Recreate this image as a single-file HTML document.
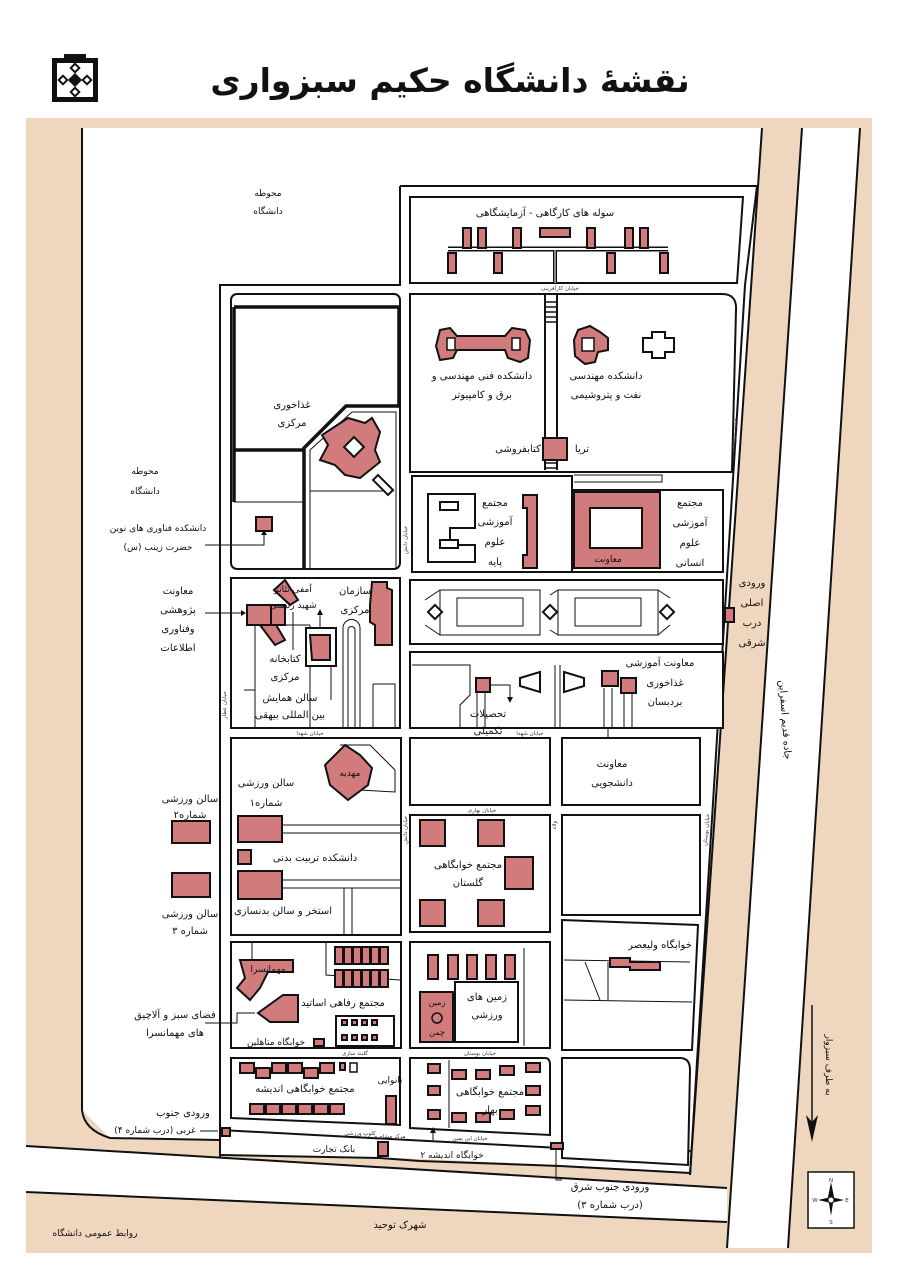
<!DOCTYPE html>
<html><head><meta charset="utf-8">
<style>
html,body{margin:0;padding:0;background:#fff;}
svg{display:block;}
text{font-family:"DejaVu Sans","Liberation Sans",sans-serif;fill:#111;}
.s{font-size:10px;text-anchor:middle;}
.t{font-size:5.5px;text-anchor:middle;fill:#333;}
.p{fill:#d17b7c;stroke:#111;stroke-width:2;}
.w{fill:#fff;stroke:#111;stroke-width:2;}
.l{fill:none;stroke:#111;stroke-width:2;}
.a{fill:none;stroke:#111;stroke-width:1;}
</style></head><body>
<svg width="904" height="1280" viewBox="0 0 904 1280" xmlns="http://www.w3.org/2000/svg">
<rect width="904" height="1280" fill="#fff"/>
<!-- logo -->
<g>
<path d="M52 58 L64 58 L64 54 L86 54 L86 58 L98 58 L98 102 L52 102 Z" fill="#111"/>
<path d="M57 63 L93 63 L93 97 L57 97 Z" fill="#fff"/>
<g fill="#111">
<rect x="71" y="64" width="8" height="8" transform="rotate(45 75 68)"/>
<rect x="71" y="88" width="8" height="8" transform="rotate(45 75 92)"/>
<rect x="59" y="76" width="8" height="8" transform="rotate(45 63 80)"/>
<rect x="83" y="76" width="8" height="8" transform="rotate(45 87 80)"/>
<rect x="70" y="75" width="10" height="10" transform="rotate(45 75 80)"/>
</g>
<g fill="#fff">
<rect x="73" y="66" width="4" height="4" transform="rotate(45 75 68)"/>
<rect x="73" y="90" width="4" height="4" transform="rotate(45 75 92)"/>
<rect x="61" y="78" width="4" height="4" transform="rotate(45 63 80)"/>
<rect x="85" y="78" width="4" height="4" transform="rotate(45 87 80)"/>
</g>
</g>
<text x="450" y="92" style="font-size:33px;font-weight:bold;text-anchor:middle;" direction="rtl">نقشهٔ دانشگاه حکیم سبزواری</text>

<!-- beige background -->
<rect x="26" y="118" width="846" height="1135" fill="#efd6bf"/>
<!-- main white area -->
<path d="M82 128 L762 128 L690 1172 L560 1165 L400 1158 L220 1155 L220 1140 L110 1138 L82 1110 Z" fill="#fff"/>
<path d="M82 128 L82 1110 Q84 1130 110 1138 L220 1140" class="l"/>
<path d="M762 128 L690 1175" class="l"/>
<!-- right road -->
<path d="M802 128 L860 128 L788 1248 L727 1248 Z" fill="#fff"/>
<path d="M802 128 L727 1248 M860 128 L788 1248" class="l"/>
<!-- bottom road -->
<path d="M26 1146 L727 1188 L727 1222 L26 1192 Z" fill="#fff"/>
<path d="M26 1146 L727 1188 M26 1192 L727 1222" class="l"/>
<!-- campus lower perimeter road -->
<path d="M220 1130 L560 1148 Q690 1160 690 1150" class="l"/>
<path d="M220 1155 L380 1158 L420 1161 L560 1166 L690 1173" class="l"/>

<!-- campus outer -->
<path d="M400 186 L757 186 L745 285" class="l"/>
<path d="M220 1158 L220 285 L400 285 L400 186" class="l"/>
<path d="M745 285 L690 1175" class="l"/>
<!-- workshop block -->
<path d="M410 197 L743 197 L737 283 L410 283 Z" class="w"/>
<text x="545" y="216" class="s" direction="rtl">سوله های کارگاهی - آزمایشگاهی</text>
<path d="M448 249 L668 249" stroke="#111" stroke-width="5"/>
<path d="M448 249 L668 249" stroke="#fff" stroke-width="2"/>
<line x1="555" y1="250" x2="555" y2="283" stroke="#111" stroke-width="4"/>
<line x1="555" y1="250" x2="555" y2="283" stroke="#fff" stroke-width="1"/>
<g class="p">
<rect x="463" y="228" width="8" height="20"/><rect x="478" y="228" width="8" height="20"/><rect x="513" y="228" width="8" height="20"/>
<rect x="540" y="228" width="30" height="9"/>
<rect x="587" y="228" width="8" height="20"/><rect x="625" y="228" width="8" height="20"/><rect x="640" y="228" width="8" height="20"/>
<rect x="448" y="253" width="8" height="20"/><rect x="494" y="253" width="8" height="20"/><rect x="607" y="253" width="8" height="20"/><rect x="660" y="253" width="8" height="20"/>
</g>
<text x="560" y="290" class="t" direction="rtl">خیابان کارآفرینی</text>

<!-- left block row1 -->
<rect x="231" y="294" width="169" height="275" rx="6" class="w"/>
<path d="M234 307 L399 307 L399 406 L346 406 L304 448 L304 569" fill="none" stroke="#111" stroke-width="3.5"/>
<path d="M234 307 L234 502" fill="none" stroke="#111" stroke-width="3.5"/>
<path d="M234 450 L303 450" fill="none" stroke="#111" stroke-width="3.5"/>
<path d="M234 502 L303 502" class="a" stroke-width="1.5"/>
<path d="M310 450 L352 412 L396 412 L396 569 M310 450 L310 569 M310 491 L394 491" class="a" stroke-width="1.5"/>
<path d="M378 475 L393 490 L388 495 L373 480 Z" class="w" stroke-width="1.5"/>
<path d="M348 418 L365 423 L372 418 L380 432 L375 450 L380 462 L360 478 L345 475 L335 465 L320 460 L328 445 L322 435 Z" class="p"/>
<rect x="347" y="440" width="14" height="14" transform="rotate(45 354 447)" fill="#fff" stroke="#111" stroke-width="2"/>
<text x="292" y="408" class="s" direction="rtl">غذاخوری</text>
<text x="292" y="426" class="s" direction="rtl">مرکزی</text>
<rect x="256" y="517" width="16" height="14" class="p"/>
<path d="M205 545 L264 545 L264 533" class="a"/><path d="M261 535 L264 530 L267 535 Z" fill="#111"/>
<text x="407" y="540" class="t" transform="rotate(-90 407 540)">خیابان دانش</text>

<!-- engineering block -->
<path d="M410 294 L722 294 Q737 294 736 310 L732 472 L410 472 Z" class="w"/>
<path d="M545 294 L545 470 M557 294 L557 470" class="l"/>
<g stroke="#111" stroke-width="1.5"><line x1="545" y1="302" x2="557" y2="302"/><line x1="545" y1="307" x2="557" y2="307"/><line x1="545" y1="312" x2="557" y2="312"/><line x1="545" y1="317" x2="557" y2="317"/><line x1="545" y1="322" x2="557" y2="322"/><line x1="545" y1="463" x2="557" y2="463"/><line x1="545" y1="468" x2="557" y2="468"/></g>
<rect x="543" y="438" width="24" height="22" class="p"/>
<path d="M440 330 L450 328 L457 336 L505 336 L512 328 L525 330 L530 340 L528 358 L520 362 L508 358 L505 350 L457 350 L453 358 L440 360 L436 346 Z" class="p"/>
<rect x="447" y="338" width="8" height="12" fill="#fff" stroke="#111" stroke-width="1.5"/>
<rect x="512" y="338" width="8" height="12" fill="#fff" stroke="#111" stroke-width="1.5"/>
<path d="M578 330 L590 326 L600 332 L608 338 L608 350 L598 352 L595 362 L585 364 L575 356 L574 340 Z" class="p"/>
<rect x="582" y="338" width="12" height="13" fill="#fff" stroke="#111" stroke-width="1.5"/>
<path d="M652 332 L665 332 L665 338 L674 338 L674 352 L665 352 L665 358 L652 358 L652 352 L643 352 L643 338 L652 338 Z" class="w"/>
<text x="482" y="379" class="s" direction="rtl">دانشکده فنی مهندسی و</text>
<text x="482" y="398" class="s" direction="rtl">برق و کامپیوتر</text>
<text x="606" y="379" class="s" direction="rtl">دانشکده مهندسی</text>
<text x="606" y="398" class="s" direction="rtl">نفت و پتروشیمی</text>
<text x="518" y="452" class="s" direction="rtl">کتابفروشی</text>
<text x="582" y="452" class="s" direction="rtl">تریا</text>
<text x="736" y="435" class="t" transform="rotate(-85 736 435)">خیابان شریعتی</text>
<!-- sciences -->
<rect x="412" y="476" width="160" height="96" class="w"/>
<path d="M428 494 L475 494 L475 528 L450 528 L450 545 L475 545 L475 562 L428 562 Z" class="w"/>
<rect x="440" y="502" width="18" height="8" class="w" stroke-width="1.5"/>
<rect x="440" y="540" width="18" height="8" class="w" stroke-width="1.5"/>
<path d="M523 495 L537 495 L537 568 L523 568 L523 555 L527 555 L527 508 L523 508 Z" class="p"/>
<text x="495" y="506" class="s" direction="rtl">مجتمع</text>
<text x="495" y="525" class="s" direction="rtl">آموزشی</text>
<text x="495" y="545" class="s" direction="rtl">علوم</text>
<text x="495" y="565" class="s" direction="rtl">پایه</text>
<path d="M574 475 L662 475 L662 482 L574 482" class="a" stroke-width="1.5"/>
<rect x="572" y="490" width="151" height="82" class="w"/>
<path d="M574 492 L660 492 L660 568 L574 568 Z" class="p"/>
<rect x="590" y="508" width="52" height="40" fill="#fff" stroke="#111" stroke-width="2"/>
<text x="690" y="506" class="s" direction="rtl">مجتمع</text>
<text x="690" y="526" class="s" direction="rtl">آموزشی</text>
<text x="690" y="546" class="s" direction="rtl">علوم</text>
<text x="690" y="566" class="s" direction="rtl">انسانی</text>
<text x="608" y="562" class="s" style="font-size:9px" direction="rtl">معاونت</text>

<!-- row 2 left -->
<rect x="231" y="578" width="169" height="150" class="w"/>
<path d="M255 625 L255 728 M310 625 L310 728 M255 625 L310 625" class="a" stroke-width="1.5"/>
<path d="M244 690 L255 690 M343 628 L343 728 M360 628 L360 728 M343 628 A8.5 8.5 0 0 1 360 628 M348 630 L348 728 M355 630 L355 728 M348 630 A3.5 3.5 0 0 1 355 630" class="a" stroke-width="1.5"/>
<path d="M373 684 L395 684 L395 728 M373 684 L373 728" class="a" stroke-width="1.5"/>
<rect x="306" y="628" width="30" height="38" class="w" stroke-width="1.5"/>
<path d="M310 635 L330 635 L330 660 L312 660 Z" class="p"/>
<path d="M274 590 L285 580 L298 600 L290 605 Z M260 625 L272 618 L285 640 L275 645 Z" class="p"/>
<rect x="247" y="605" width="38" height="20" class="p"/>
<path d="M271 605 L271 625" class="l"/>
<path d="M372 582 L387 582 L387 588 L392 590 L392 645 L375 645 L375 625 L370 622 L370 605 Z" class="p"/>
<text x="293" y="592" class="s" style="font-size:9px" direction="rtl">آمفی تئاتر</text>
<text x="293" y="608" class="s" style="font-size:9px" direction="rtl">شهید رئیسی</text>
<text x="355" y="594" class="s" direction="rtl">سازمان</text>
<text x="355" y="613" class="s" direction="rtl">مرکزی</text>
<text x="285" y="662" class="s" direction="rtl">کتابخانه</text>
<text x="285" y="680" class="s" direction="rtl">مرکزی</text>
<text x="290" y="701" class="s" direction="rtl">سالن همایش</text>
<text x="290" y="718" class="s" direction="rtl">بین المللی بیهقی</text>
<path d="M205 613 L245 613" class="a"/><path d="M241 610 L246 613 L241 616 Z" fill="#111"/>
<path d="M293 612 L293 650" class="a"/>
<path d="M320 628 L320 612" class="a"/><path d="M317 615 L320 609 L323 615 Z" fill="#111"/>
<path d="M331 666 L331 700" class="a"/>
<text x="226" y="705" class="t" transform="rotate(-90 226 705)">خیابان عطار</text>
<text x="310" y="735" class="t" direction="rtl">خیابان شهدا</text>

<!-- courtyard -->
<rect x="410" y="580" width="313" height="64" class="w"/>
<g class="a" stroke-width="2">
<rect x="440" y="590" width="100" height="45"/>
<rect x="457" y="598" width="66" height="28"/>
<rect x="558" y="590" width="100" height="45"/>
<rect x="575" y="598" width="66" height="28"/>
<path d="M425 600 L440 590 M425 625 L440 635 M550 595 L558 590 M550 630 L558 635 M658 590 L670 598 M658 635 L670 625"/>
</g>
<rect x="545" y="607" width="10" height="10" transform="rotate(45 550 612)" class="w"/>
<rect x="430" y="607" width="10" height="10" transform="rotate(45 435 612)" class="w"/>
<rect x="662" y="607" width="10" height="10" transform="rotate(45 667 612)" class="w"/>
<!-- lower block row2 -->
<rect x="410" y="652" width="313" height="76" class="w"/>
<path d="M412 665 L470 665 L470 695 L460 705 L460 727" class="a" stroke-width="1.5"/>
<path d="M477 688 L477 728 M485 688 L485 728 M604 688 L604 728 M612 688 L612 728 M624 694 L624 728 M632 694 L632 728 M555 665 L555 728 M560 665 L560 728" class="a" stroke-width="1.5"/>
<rect x="476" y="678" width="14" height="14" class="p"/>
<path d="M520 678 L540 672 L540 692 L520 686 Z M564 672 L584 678 L584 686 L564 692 Z" class="w" stroke-width="1.5"/>
<rect x="602" y="671" width="16" height="15" class="p"/>
<rect x="621" y="678" width="15" height="15" class="p"/>
<path d="M490 685 L510 685 L510 700" class="a"/><path d="M507 697 L510 703 L513 697 Z" fill="#111"/>
<text x="488" y="717" class="s" direction="rtl">تحصیلات</text>
<text x="488" y="734" class="s" direction="rtl">تکمیلی</text>
<text x="660" y="666" class="s" direction="rtl">معاونت آموزشی</text>
<text x="665" y="686" class="s" direction="rtl">غذاخوری</text>
<text x="665" y="705" class="s" direction="rtl">بردبسان</text>
<path d="M608 728 L608 755" class="a"/><path d="M605 752 L608 758 L611 752 Z" fill="#111"/>
<text x="530" y="735" class="t" direction="rtl">خیابان شهدا</text>

<!-- row 3 -->
<rect x="231" y="738" width="170" height="197" class="w"/>
<path d="M340 745 L370 745 L395 770 L395 792 L360 790" class="a" stroke-width="1.5"/>
<path d="M345 745 L360 755 L372 768 L368 785 L348 800 L330 785 L325 765 Z" class="p"/>
<text x="350" y="776" class="s" style="font-size:9px" direction="rtl">مهدیه</text>
<text x="266" y="786" class="s" direction="rtl">سالن ورزشی</text>
<text x="266" y="806" class="s" direction="rtl">شماره۱</text>
<rect x="238" y="816" width="44" height="26" class="p"/>
<rect x="238" y="850" width="13" height="14" class="p"/>
<rect x="238" y="871" width="44" height="28" class="p"/>
<path d="M282 825 L400 825 M282 833 L400 833 M282 880 L400 880 M282 888 L400 888 M344 888 L344 935 M352 888 L352 935" class="a" stroke-width="1.5"/>
<text x="315" y="861" class="s" direction="rtl">دانشکده تربیت بدنی</text>
<text x="283" y="914" class="s" direction="rtl">استخر و سالن بدنسازی</text>
<rect x="410" y="738" width="140" height="67" class="w"/>
<rect x="562" y="738" width="138" height="67" class="w"/>
<text x="612" y="767" class="s" direction="rtl">معاونت</text>
<text x="612" y="786" class="s" direction="rtl">دانشجویی</text>
<text x="482" y="812" class="t" direction="rtl">خیابان بهاری</text>
<rect x="410" y="815" width="140" height="117" class="w"/>
<g class="p">
<rect x="420" y="820" width="25" height="26"/><rect x="478" y="820" width="26" height="26"/><rect x="505" y="857" width="28" height="32"/><rect x="420" y="900" width="25" height="26"/><rect x="478" y="900" width="26" height="26"/>
</g>
<text x="468" y="868" class="s" direction="rtl">مجتمع خوابگاهی</text>
<text x="468" y="886" class="s" direction="rtl">گلستان</text>
<rect x="562" y="815" width="138" height="100" class="w"/>
<text x="407" y="830" class="t" transform="rotate(-90 407 830)">خیابان دانش</text>
<text x="556" y="825" class="t" transform="rotate(-90 556 825)">ولاء</text>
<text x="708" y="830" class="t" transform="rotate(-85 708 830)">خیابان بوستان</text>

<!-- row 5 -->
<rect x="231" y="942" width="170" height="106" class="w"/>
<path d="M252 942 L252 990 L242 990 M326 942 L326 975 L400 980" class="a" stroke-width="1.5"/>
<g class="p">
<rect x="335" y="947" width="8" height="17"/><rect x="344" y="947" width="8" height="17"/><rect x="353" y="947" width="8" height="17"/><rect x="362" y="947" width="8" height="17"/><rect x="371" y="947" width="8" height="17"/><rect x="380" y="947" width="8" height="17"/>
<rect x="335" y="970" width="8" height="17"/><rect x="344" y="970" width="8" height="17"/><rect x="353" y="970" width="8" height="17"/><rect x="362" y="970" width="8" height="17"/><rect x="371" y="970" width="8" height="17"/><rect x="380" y="970" width="8" height="17"/>
</g>
<path d="M240 960 L293 960 L293 972 L268 972 L260 988 L250 1000 L237 988 L245 978 Z" class="p"/>
<text x="268" y="972" class="s" style="font-size:9px" direction="rtl">مهمانسرا</text>
<path d="M283 995 L298 995 L298 1022 L270 1022 L258 1013 Z" class="p"/>
<text x="343" y="1006" class="s" direction="rtl">مجتمع رفاهی اساتید</text>
<rect x="336" y="1016" width="58" height="30" class="w" stroke-width="1.5"/>
<g class="p" stroke-width="1.5"><rect x="342" y="1020" width="5" height="5"/><rect x="352" y="1020" width="5" height="5"/><rect x="362" y="1020" width="5" height="5"/><rect x="372" y="1020" width="5" height="5"/><rect x="342" y="1035" width="5" height="5"/><rect x="352" y="1035" width="5" height="5"/><rect x="362" y="1035" width="5" height="5"/><rect x="372" y="1035" width="5" height="5"/></g>
<rect x="314" y="1039" width="10" height="7" class="p" stroke-width="1.5"/>
<text x="276" y="1045" class="s" style="font-size:9px" direction="rtl">خوابگاه متاهلین</text>
<path d="M205 1023 L237 1023 L237 1013 L255 1013" class="a"/>
<rect x="410" y="942" width="140" height="106" class="w"/>
<path d="M524 948 L524 1046" class="a" stroke-width="1.5"/>
<g class="p"><rect x="428" y="955" width="10" height="24"/><rect x="448" y="955" width="10" height="24"/><rect x="467" y="955" width="10" height="24"/><rect x="486" y="955" width="10" height="24"/><rect x="505" y="955" width="10" height="24"/></g>
<rect x="455" y="982" width="63" height="60" class="w" stroke-width="1.5"/>
<rect x="420" y="992" width="33" height="50" class="p"/>
<circle cx="437" cy="1018" r="5" fill="#d17b7c" stroke="#111" stroke-width="1.5"/>
<text x="437" y="1005" class="s" style="font-size:8px" direction="rtl">زمین</text>
<text x="437" y="1035" class="s" style="font-size:8px" direction="rtl">چمن</text>
<text x="487" y="1000" class="s" direction="rtl">زمین های</text>
<text x="487" y="1018" class="s" direction="rtl">ورزشی</text>
<path d="M562 920 L698 925 L692 1050 L562 1050 Z" class="w"/>
<path d="M564 960 L690 962 M564 1000 L692 1002 M585 962 L600 1000 M608 962 L608 1000" class="a" stroke-width="1.5"/>
<path d="M610 958 L630 958 L630 962 L660 962 L660 970 L630 970 L630 967 L610 967 Z" class="p"/>
<text x="660" y="948" class="s" direction="rtl">خوابگاه ولیعصر</text>

<!-- row 6 -->
<path d="M231 1058 L400 1058 L400 1125 L231 1118 Z" class="w"/>
<g class="p">
<rect x="240" y="1063" width="14" height="10"/><rect x="256" y="1068" width="14" height="10"/><rect x="272" y="1063" width="14" height="10"/><rect x="288" y="1063" width="14" height="10"/><rect x="304" y="1068" width="14" height="10"/><rect x="320" y="1063" width="14" height="10"/><rect x="340" y="1063" width="5" height="7"/>
<rect x="250" y="1104" width="14" height="10"/><rect x="266" y="1104" width="14" height="10"/><rect x="282" y="1104" width="14" height="10"/><rect x="298" y="1104" width="14" height="10"/><rect x="314" y="1104" width="14" height="10"/><rect x="330" y="1104" width="14" height="10"/>
<rect x="386" y="1096" width="10" height="28"/>
</g>
<path d="M350 1063 L357 1063 L357 1072 L350 1072 Z" fill="none" stroke="#111" stroke-width="1.5"/>
<text x="390" y="1083" class="s" style="font-size:9px" direction="rtl">نانوایی</text>
<text x="305" y="1092" class="s" direction="rtl">مجتمع خوابگاهی اندیشه</text>
<text x="355" y="1055" class="t" direction="rtl">گلبند سازی</text>
<path d="M410 1058 L545 1058 Q550 1058 550 1065 L550 1135 L410 1128 Z" class="w"/>
<path d="M449 1060 L449 1128" class="a"/>
<g class="p">
<rect x="428" y="1064" width="12" height="9"/><rect x="452" y="1070" width="14" height="9"/><rect x="476" y="1070" width="14" height="9"/><rect x="500" y="1066" width="14" height="9"/><rect x="526" y="1063" width="14" height="9"/>
<rect x="428" y="1086" width="12" height="9"/><rect x="526" y="1086" width="14" height="9"/>
<rect x="428" y="1110" width="12" height="9"/><rect x="452" y="1113" width="14" height="9"/><rect x="476" y="1113" width="14" height="9"/><rect x="500" y="1110" width="14" height="9"/><rect x="526" y="1106" width="14" height="9"/>
</g>
<text x="490" y="1095" class="s" direction="rtl">مجتمع خوابگاهی</text>
<text x="490" y="1113" class="s" direction="rtl">بهار</text>
<text x="480" y="1055" class="t" direction="rtl">خیابان بوستان</text>
<path d="M562 1058 L680 1058 Q690 1058 690 1070 L688 1165 L562 1158 Z" class="w"/>
<text x="470" y="1140" class="t" direction="rtl">خیابان ابن یمین</text>
<text x="390" y="1138" class="t" direction="rtl">مرکز مشاوره</text>
<text x="360" y="1135" class="t" direction="rtl">کلوپ ورزشی</text>
<rect x="378" y="1142" width="10" height="14" class="p"/>
<text x="334" y="1152" class="s" style="font-size:9px" direction="rtl">بانک تجارت</text>
<text x="452" y="1158" class="s" style="font-size:9px" direction="rtl">خوابگاه اندیشه ۲</text>
<path d="M433 1140 L433 1130" class="a"/><path d="M430 1133 L433 1127 L436 1133 Z" fill="#111"/>
<rect x="222" y="1128" width="8" height="8" class="p" stroke-width="1.5"/>
<rect x="551" y="1143" width="12" height="6" class="p" stroke-width="1.5"/>
<path d="M556 1150 L556 1180 L562 1180" class="a"/>
<path d="M218 1131 L200 1131" class="a"/>

<!-- right gate -->
<rect x="725" y="608" width="9" height="14" class="p" stroke-width="1.5"/>
<text x="752" y="586" class="s" direction="rtl">ورودی</text>
<text x="752" y="606" class="s" direction="rtl">اصلی</text>
<text x="752" y="626" class="s" direction="rtl">درب</text>
<text x="752" y="646" class="s" direction="rtl">شرقی</text>

<!-- outside labels -->
<text x="268" y="196" class="s" style="font-size:9px" direction="rtl">محوطه</text>
<text x="268" y="214" class="s" style="font-size:9px" direction="rtl">دانشگاه</text>
<text x="145" y="474" class="s" style="font-size:9px" direction="rtl">محوطه</text>
<text x="145" y="494" class="s" style="font-size:9px" direction="rtl">دانشگاه</text>
<text x="158" y="531" class="s" style="font-size:9px" direction="rtl">دانشکده فناوری های نوین</text>
<text x="158" y="550" class="s" style="font-size:9px" direction="rtl">حضرت زینب (س)</text>
<text x="178" y="594" class="s" direction="rtl">معاونت</text>
<text x="178" y="613" class="s" direction="rtl">پژوهشی</text>
<text x="178" y="632" class="s" direction="rtl">وفناوری</text>
<text x="178" y="651" class="s" direction="rtl">اطلاعات</text>
<text x="190" y="802" class="s" direction="rtl">سالن ورزشی</text>
<text x="190" y="818" class="s" direction="rtl">شماره۲</text>
<rect x="172" y="821" width="38" height="22" class="p"/>
<rect x="172" y="873" width="38" height="24" class="p"/>
<text x="190" y="917" class="s" direction="rtl">سالن ورزشی</text>
<text x="190" y="934" class="s" direction="rtl">شماره ۳</text>
<text x="175" y="1018" class="s" direction="rtl">فضای سبز و آلاچیق</text>
<text x="175" y="1036" class="s" direction="rtl">های مهمانسرا</text>
<text x="183" y="1116" class="s" direction="rtl">ورودی جنوب</text>
<text x="155" y="1133" class="s" style="font-size:9px" direction="rtl">غربی (درب شماره ۴)</text>
<text x="610" y="1190" class="s" direction="rtl">ورودی جنوب شرق</text>
<text x="610" y="1208" class="s" direction="rtl">(درب شماره ۳)</text>
<text x="400" y="1228" class="s" direction="rtl">شهرک توحید</text>
<text x="95" y="1236" class="s" style="font-size:9px" direction="rtl">روابط عمومی دانشگاه</text>
<text x="782" y="720" class="s" transform="rotate(86 782 720)" direction="rtl">جاده قدیم اسفراین</text>
<text x="826" y="1065" class="s" style="font-size:9px" transform="rotate(90 826 1065)" direction="rtl">به طرف سبزوار</text>
<path d="M812 1005 L812 1135" stroke="#111" stroke-width="1.5"/>
<path d="M806 1115 L812 1142 L818 1115 L812 1122 Z" fill="#111"/>
<!-- compass -->
<rect x="808" y="1172" width="46" height="56" fill="#fff" stroke="#111" stroke-width="1.5"/>
<path d="M831 1182 L834 1197 L831 1216 L828 1197 Z M818 1200 L831 1197 L844 1200 L831 1203 Z" fill="#111"/>
<circle cx="831" cy="1200" r="3" fill="#fff" stroke="#111"/>
<text x="831" y="1182" class="t">N</text><text x="831" y="1224" class="t">S</text><text x="815" y="1202" class="t">W</text><text x="847" y="1202" class="t">E</text>
</svg>
</body></html>
